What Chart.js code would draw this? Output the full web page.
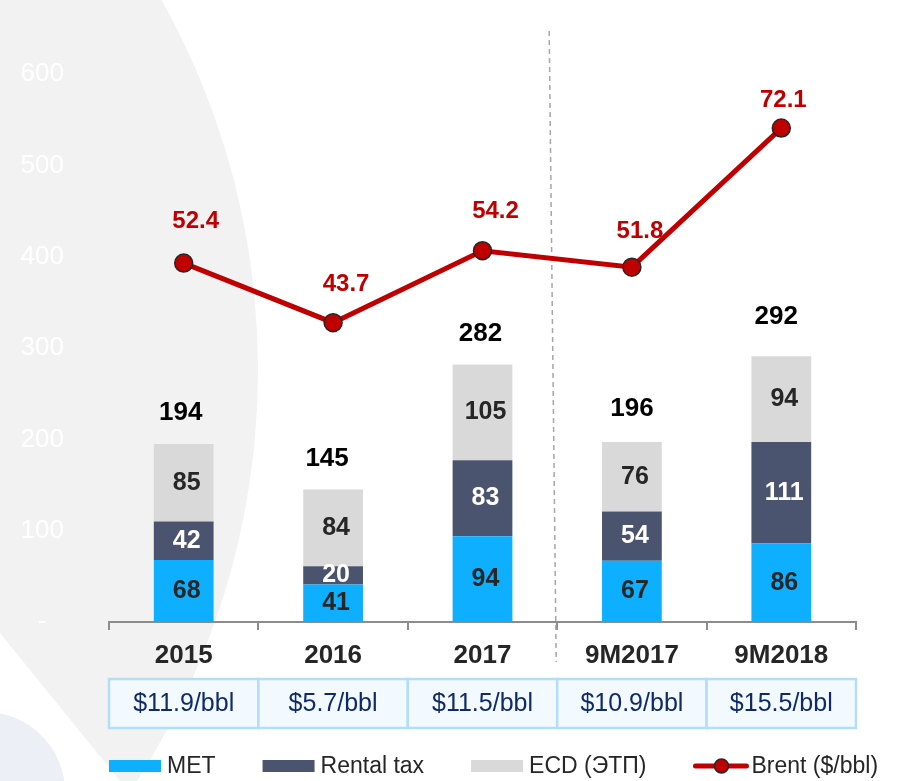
<!DOCTYPE html>
<html>
<head>
<meta charset="utf-8">
<script src="https://cdn.jsdelivr.net/npm/chart.js@4.4.0/dist/chart.umd.min.js"></script>
<style>
  html, body { margin: 0; padding: 0; background: #fff; }
  #wrap { width: 903px; height: 781px; }
</style>
</head>
<body>
<div id="wrap"><canvas id="taxChart" width="903" height="781"></canvas></div>
<script>
const categories = ["2015", "2016", "2017", "9M2017", "9M2018"];
const met = [68, 41, 94, 67, 86];
const rentalTax = [42, 20, 83, 54, 111];
const ecd = [85, 84, 105, 76, 94];
const totals = [194, 145, 282, 196, 292];
const brent = [52.4, 43.7, 54.2, 51.8, 72.1];
const taxPerBarrel = ["$11.9/bbl", "$5.7/bbl", "$11.5/bbl", "$10.9/bbl", "$15.5/bbl"];
const legendNames = ["MET", "Rental tax", "ECD (ЭТП)", "Brent ($/bbl)"];

const FONT = '"Liberation Sans", Arial, sans-serif';
const C_MET = "#0FAFFF";
const C_RENT = "#4B546E";
const C_ECD = "#D9D9D9";
const C_RED = "#C00000";

// small nudges for the value labels (px)
const totalDx = [-3, -6, -2, 0, -5];
const totalLift = [31, 31, 31, 33, 39];
const brentDx = [12, 13, 13, 8, 2];
const brentLift = [42, 38, 39, 36, 28];

// grey arcs behind the chart
const backdrop = {
  id: "backdrop",
  beforeDraw(chart) {
    const c = chart.ctx;
    c.save();
    c.fillStyle = "#fff";
    c.fillRect(0, 0, chart.width, chart.height);
    c.fillStyle = "#F2F2F2";
    c.beginPath();
    c.arc(-500, 370, 758, 0, Math.PI * 2);
    c.fill();
    c.fillStyle = "#fff";
    c.beginPath();
    c.moveTo(0, 633);
    c.lineTo(120, 781);
    c.lineTo(0, 781);
    c.closePath();
    c.fill();
    c.fillStyle = "#EDEFF7";
    c.beginPath();
    c.arc(-15, 792, 80, 0, Math.PI * 2);
    c.fill();
    c.restore();
  },
  beforeDatasetsDraw(chart) {
    // dashed divider between full years and 9M
    const c = chart.ctx, xs = chart.scales.x, area = chart.chartArea;
    const xm = xs.getPixelForValue(2.5);
    c.save();
    c.strokeStyle = "#A6A6A6";
    c.lineWidth = 1.5;
    c.setLineDash([5, 4]);
    c.beginPath();
    c.moveTo(xm - 8, area.top - 43);
    c.lineTo(xm - 1, area.bottom + 40);
    c.stroke();
    c.restore();
  }
};

const markLabels = {
  id: "markLabels",
  afterDatasetsDraw(chart) {
    const c = chart.ctx;
    c.save();
    c.textAlign = "center";
    c.textBaseline = "middle";

    const segColors = ["#262626", "#FFFFFF", "#262626"];
    [1, 2, 3].forEach((di, k) => {
      const vals = chart.data.datasets[di].data;
      chart.getDatasetMeta(di).data.forEach((bar, i) => {
        c.fillStyle = segColors[k];
        c.font = "bold 25px " + FONT;
        c.fillText(vals[i], bar.x + 3, (bar.y + bar.base) / 2);
      });
    });

    chart.getDatasetMeta(3).data.forEach((bar, i) => {
      c.fillStyle = "#000";
      c.font = "bold 26px " + FONT;
      c.fillText(totals[i], bar.x + totalDx[i], bar.y - totalLift[i]);
    });

    chart.getDatasetMeta(0).data.forEach((pt, i) => {
      c.fillStyle = C_RED;
      c.font = "bold 24px " + FONT;
      c.fillText(brent[i].toFixed(1), pt.x + brentDx[i], pt.y - brentLift[i]);
    });
    c.restore();
  }
};

// $/bbl row under the axis + legend
const priceRow = {
  id: "priceRow",
  afterDraw(chart) {
    const c = chart.ctx, xs = chart.scales.x, b = chart.chartArea.bottom;
    const top = b + 57, h = 49;
    c.save();
    c.textAlign = "center";
    c.textBaseline = "middle";
    categories.forEach((cat, i) => {
      const l = xs.getPixelForValue(i - 0.5), r = xs.getPixelForValue(i + 0.5);
      c.fillStyle = "#F2F9FF";
      c.fillRect(l, top, r - l, h);
      c.strokeStyle = "#B3DEF9";
      c.lineWidth = 2.5;
      c.strokeRect(l, top, r - l, h);
      c.fillStyle = "#0E2A6B";
      c.font = "25px " + FONT;
      c.fillText(taxPerBarrel[i], (l + r) / 2, top + h / 2 + 1);
    });

    let x = xs.left;
    const ly = b + 144;
    const swatches = [C_MET, C_RENT, C_ECD, null];
    c.font = "23px " + FONT;
    c.textAlign = "left";
    legendNames.forEach((name, i) => {
      if (swatches[i]) {
        c.fillStyle = swatches[i];
        c.fillRect(x, ly - 6, 52, 12);
      } else {
        c.strokeStyle = C_RED;
        c.lineWidth = 5;
        c.lineCap = "round";
        c.beginPath();
        c.moveTo(x + 2, ly);
        c.lineTo(x + 53, ly);
        c.stroke();
        c.beginPath();
        c.arc(x + 28, ly, 7, 0, Math.PI * 2);
        c.fillStyle = C_RED;
        c.fill();
        c.lineWidth = 1.5;
        c.strokeStyle = "#262626";
        c.stroke();
      }
      c.fillStyle = "#262626";
      c.fillText(name, x + 58, ly + 1);
      x += 58 + c.measureText(name).width + 47;
    });
    c.restore();
  }
};

const ctx = document.getElementById("taxChart").getContext("2d");

const taxChart = new Chart(ctx, {
  type: "bar",
  data: {
    labels: categories,
    datasets: [
      {
        type: "line",
        label: legendNames[3],
        data: brent,
        yAxisID: "y1",
        order: 0,
        borderColor: C_RED,
        borderWidth: 5,
        pointRadius: 9,
        pointBackgroundColor: C_RED,
        pointBorderColor: "#262626",
        pointBorderWidth: 1.5,
        tension: 0,
        fill: false
      },
      { label: legendNames[0], data: met, backgroundColor: C_MET, order: 1 },
      { label: legendNames[1], data: rentalTax, backgroundColor: C_RENT, order: 1 },
      { label: legendNames[2], data: ecd, backgroundColor: C_ECD, order: 1 }
    ]
  },
  options: {
    responsive: false,
    animation: false,
    layout: { padding: { top: 74, right: 47, bottom: 111, left: 0 } },
    plugins: {
      legend: { display: false },
      tooltip: { enabled: false }
    },
    datasets: { bar: { barPercentage: 0.4, categoryPercentage: 1 } },
    scales: {
      x: {
        stacked: true,
        offset: true,
        grid: {
          display: true,
          drawOnChartArea: false,
          drawTicks: true,
          tickLength: 8,
          color: "#8C8C8C",
          lineWidth: 2,
          offset: true
        },
        border: { display: true, color: "#8C8C8C", width: 2 },
        ticks: {
          color: "#262626",
          font: { family: FONT, size: 26, weight: "bold" },
          padding: 10,
          maxRotation: 0
        },
        afterFit(s) { s.height = 48; }
      },
      y: {
        stacked: true,
        min: 0,
        max: 600,
        ticks: {
          stepSize: 100,
          color: "#FFFFFF",
          font: { family: FONT, size: 26 },
          padding: 45,
          crossAlign: "center",
          callback: (v) => (v === 0 ? "-" : v)
        },
        grid: { display: false, drawTicks: false },
        border: { display: false },
        afterFit(s) { s.width = 109; }
      },
      y1: { position: "right", display: false, min: 0, max: 80 }
    }
  },
  plugins: [backdrop, markLabels, priceRow]
});
</script>
</body>
</html>
